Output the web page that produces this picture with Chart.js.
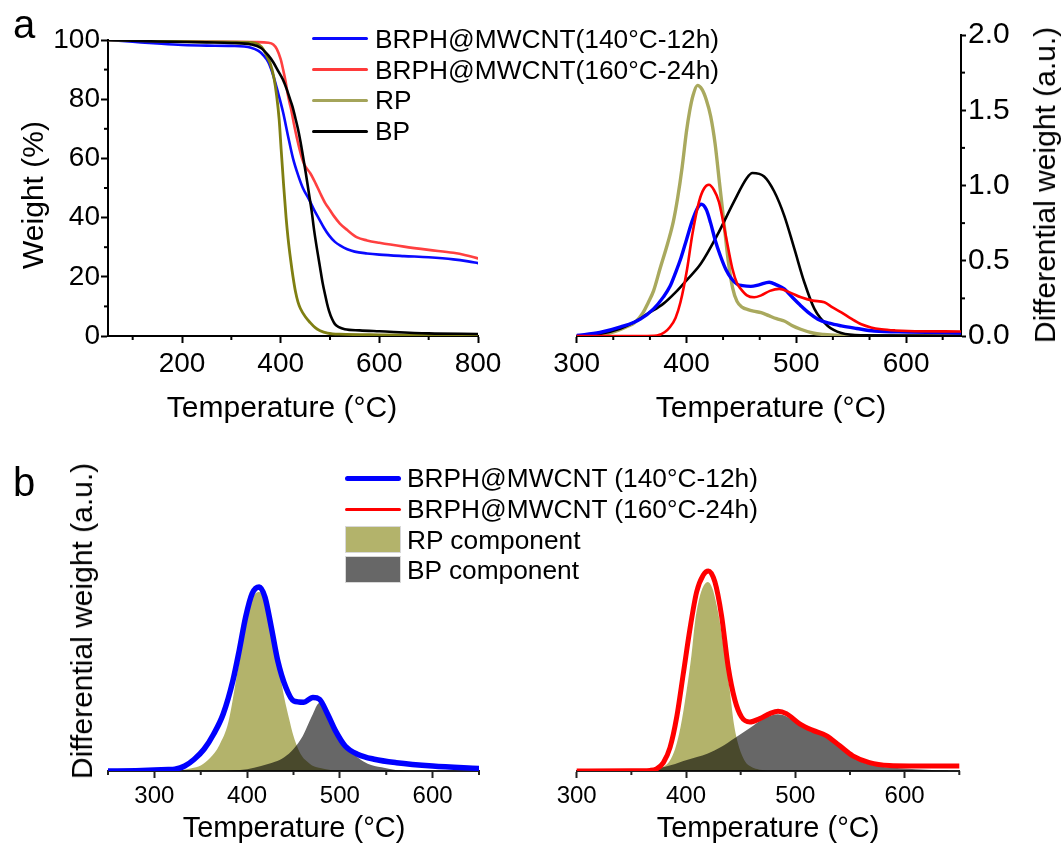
<!DOCTYPE html>
<html>
<head>
<meta charset="utf-8">
<script src="https://cdn.jsdelivr.net/npm/chart.js@4/dist/chart.umd.min.js"></script>
<style>
  html, body { margin: 0; padding: 0; background: #fff; }
  body { width: 1064px; height: 843px; position: relative; overflow: hidden;
         font-family: "Liberation Sans", Arial, sans-serif; color: #000; }
  canvas { position: absolute; }
  .t { position: absolute; white-space: nowrap; line-height: 1; }
  .c { transform: translate(-50%, -50%); }
  .r { transform: translate(-50%, -50%) rotate(-90deg); }
  .row { position: absolute; white-space: nowrap; line-height: 1; }
  .sw { position: absolute; }
</style>
</head>
<body>
<canvas id="tga" width="540" height="430" style="left:0;top:0"></canvas>
<canvas id="dtg" width="524" height="430" style="left:540px;top:0"></canvas>
<canvas id="fit1" width="540" height="403" style="left:0;top:440px"></canvas>
<canvas id="fit2" width="524" height="403" style="left:540px;top:440px"></canvas>

<div class="t" style="left:13px;top:4px;font-size:40px">a</div>
<div class="t" style="left:13px;top:462px;font-size:40px">b</div>

<div class="t c" style="left:282px;top:407px;font-size:30px">Temperature (°C)</div>
<div class="t r" style="left:33px;top:195px;font-size:30px">Weight (%)</div>
<div class="t c" style="left:771px;top:407px;font-size:30px">Temperature (°C)</div>
<div class="t r" style="left:1045px;top:185px;font-size:30px">Differential weight (a.u.)</div>
<div class="t c" style="left:294px;top:827px;font-size:29px">Temperature (°C)</div>
<div class="t r" style="left:82px;top:621px;font-size:30px">Differential weight (a.u.)</div>
<div class="t c" style="left:768px;top:827px;font-size:29px">Temperature (°C)</div>

<div id="legA"></div>
<div id="legB"></div>

<script>
// ---------- Sample names ----------
const tgaNames = ['BRPH@MWCNT(140°C-12h)', 'BRPH@MWCNT(160°C-24h)', 'RP', 'BP'];
const fitNames = ['BRPH@MWCNT (140°C-12h)', 'BRPH@MWCNT (160°C-24h)', 'RP component', 'BP component'];

// ---------- TGA: temperature (°C) / weight (%) ----------
const tgaBlueT = [50,100,150,200,250,300,340,355,365,375,385,395,405,415,425,435,445,458,468,478,488,498,510,521,535,550,575,600,650,700,750,780,800];
const tgaBlueW = [100,99.4,98.8,98.3,98.1,98.0,97.4,96.3,94.8,92.5,88,82,75.5,67.5,60,54.5,50,46,42.5,39.5,36.5,34,31.8,30.5,29.3,28.5,27.9,27.5,27,26.6,25.9,25.2,24.6];

const tgaRedT = [50,150,250,350,375,385,392,400,405,410,414,418,421.5,427,433,438,443,447,451,460,471,480,490,500,508,520,535,555,575,600,650,700,750,775,800];
const tgaRedW = [100,99.6,99.4,99.3,99.1,98.5,97,93.5,90,86,82,78.8,76.3,71.5,66.8,63.3,60.2,58.3,57,55,51.5,48.3,45,42.5,40.5,38,35.8,33.3,32.3,31.5,30.2,29.1,28.1,27.3,26.2];

const tgaRpT = [50,150,250,340,355,365,372,379,386,392,397,401,406,411,415,420,425,430,435,440,450,460,470,480,495,520,600,800];
const tgaRpW = [100,99.6,99.4,99.2,98.5,96.8,94.5,92,87.5,81,73,63,51,40,33,26,20,15,11.5,9.3,6.5,4.5,2.8,1.8,1,0.6,0.4,0.2];

const tgaBpT = [50,150,250,300,340,360,375,385,395,404,412,418,424,430,435,440,445,451,457,463,468,474,480,485,490,494,498,504,510,518,530,560,600,700,800];
const tgaBpW = [100,99.5,99.2,99,98.5,97.3,94.8,92.5,89.5,86.8,83.5,80.5,77.5,73.5,70,65.8,61,55,48.5,42,35.5,29,23,18,14,11,8.5,5.8,4,3,2.3,1.9,1.6,0.9,0.7];

// ---------- DTG: temperature (°C) / differential weight (a.u.) ----------
const dtgBlueT = [300,321,340,358,370,379,385,390,395,400,405,410,413.5,418,422,426,431,436,441,446,451,458.6,466,475.3,482,489,496,504.3,512,519.6,530,541,555,571,602,650];
const dtgBlueV = [0.003,0.023,0.06,0.112,0.18,0.26,0.33,0.42,0.52,0.64,0.76,0.85,0.875,0.84,0.75,0.64,0.53,0.44,0.38,0.345,0.335,0.33,0.34,0.357,0.34,0.313,0.26,0.2,0.15,0.112,0.085,0.067,0.05,0.033,0.027,0.02];

const dtgRedT = [300,360,373,380,385,390,394.5,400.6,405.2,411.3,416,420.4,425,429.6,435.7,441.8,446,449.4,455,461.6,468,476,484.5,494,504.3,515,525.6,533,541,550,559.2,568,577.5,590,602,650];
const dtgRedV = [0,0,0.003,0.025,0.06,0.12,0.224,0.447,0.67,0.89,0.98,1.005,0.97,0.89,0.67,0.447,0.35,0.313,0.27,0.257,0.27,0.3,0.313,0.29,0.257,0.235,0.224,0.19,0.157,0.115,0.078,0.057,0.045,0.037,0.033,0.03];

const dtgRpT = [300,320,335,345,353,360,365,370,376,383,388,392,396,400,403,406,410,414,418,422,426,430,434,438,442,446,451,456,461,468,475,482,489,496,504,515,525,540,560,650];
const dtgRpV = [0,0.005,0.03,0.06,0.09,0.15,0.22,0.3,0.45,0.62,0.76,0.92,1.12,1.36,1.5,1.6,1.665,1.64,1.57,1.46,1.28,1.02,0.76,0.5,0.32,0.23,0.19,0.175,0.165,0.155,0.135,0.115,0.1,0.07,0.045,0.02,0.01,0.003,0,0];

const dtgBpT = [300,320,340,352,365,379,390,400,413,428,443,455,460,470.7,479.9,489,498.2,507.3,516.5,528.7,541,560,650];
const dtgBpV = [0.003,0.012,0.05,0.09,0.15,0.215,0.29,0.37,0.48,0.67,0.89,1.05,1.083,1.06,0.96,0.8,0.58,0.357,0.18,0.067,0.02,0.005,0.002];

// ---------- Peak fitting, 140°C-12h (normalised to the main peak) ----------
const fit1T = [250,280,300,315,322,332.7,343,353.5,363.8,374.2,384.6,391.5,398.4,405.4,413,419.2,426.1,433,441.7,450.3,460.7,471,478,486.7,495.3,505.7,519.6,536.9,561,600,650];
const fit1V = [0,0.002,0.005,0.008,0.01,0.027,0.064,0.118,0.2,0.31,0.49,0.655,0.836,0.964,1.0,0.945,0.78,0.6,0.455,0.38,0.373,0.4,0.39,0.31,0.218,0.136,0.09,0.064,0.045,0.027,0.014];
const fit1RpT = [320,330,340,350,360,370,380,390,400,405,413,420,425,430,435,440,445,450,455,460,465,470,480,490,500];
const fit1RpV = [0,0.005,0.015,0.03,0.07,0.14,0.27,0.55,0.82,0.93,0.973,0.92,0.82,0.68,0.54,0.4,0.29,0.19,0.12,0.075,0.05,0.03,0.015,0.005,0];
const fit1BpT = [370,385,400,415,430,440,450,460,470,478,485,492,500,510,520,530,545,560,575];
const fit1BpV = [0,0.004,0.01,0.027,0.05,0.075,0.12,0.19,0.3,0.37,0.34,0.27,0.2,0.12,0.07,0.04,0.02,0.005,0];

// ---------- Peak fitting, 160°C-24h (normalised to the main peak) ----------
const fit2T = [300,350,367,373,379.3,385.4,391.5,397.6,403.6,409.7,415.8,420.4,426.4,432.5,438.6,444.7,450.8,458.4,467.5,476.6,484.2,491.8,504,516.1,528.3,540.4,552.6,567.8,586,604,650];
const fit2V = [0,0.001,0.003,0.01,0.042,0.118,0.27,0.49,0.71,0.895,0.98,1.0,0.946,0.777,0.52,0.355,0.27,0.245,0.262,0.287,0.299,0.287,0.236,0.203,0.177,0.127,0.076,0.042,0.027,0.025,0.025];
const fit2RpT = [365,372,379,385,390,395,400.6,405,408.2,412,416,420,424,428,431,435.6,440,443.8,447.7,453.8,460,465,475];
const fit2RpV = [0,0.005,0.02,0.05,0.11,0.22,0.405,0.58,0.743,0.86,0.925,0.945,0.915,0.83,0.743,0.574,0.405,0.236,0.135,0.05,0.02,0.01,0];
const fit2BpT = [340,360,370,380,390,397.6,410,420,432,444.7,458.4,470.5,478,484,491,497.9,505,513,525,531,537,543,549.5,557,564.7,575,586,600,620,640];
const fit2BpV = [0.002,0.005,0.01,0.02,0.035,0.05,0.07,0.088,0.12,0.165,0.215,0.26,0.278,0.284,0.275,0.253,0.232,0.211,0.186,0.165,0.135,0.105,0.076,0.055,0.037,0.025,0.017,0.012,0.006,0.002];

// ---------- Axis ticks ----------
const tgaTicksX = [200, 400, 600, 800];
const tgaTicksY = [0, 20, 40, 60, 80, 100];
const tgaMinorX = [100, 300, 500, 700];
const tgaMinorY = [10, 30, 50, 70, 90];
const dtgTicksX = [300, 400, 500, 600];
const dtgTicksY = [0, 0.5, 1.0, 1.5, 2.0];
const dtgMinorX = [333.3, 366.7, 433.3, 466.7, 533.3, 566.7, 633.3];
const dtgMinorY = [0.25, 0.75, 1.25, 1.75];
const fitTicksX = [300, 400, 500, 600];
const fit1MinorX = [250, 350, 450, 550, 650];
const fit2MinorX = [350, 450, 550, 650];

// ---------- Helpers ----------
const FONT = '"Liberation Sans", Arial, sans-serif';
const pts = (xs, ys) => xs.map((x, i) => ({ x, y: ys[i] }));
const fixed = vals => scale => { scale.ticks = vals.map(v => ({ value: v })); };

// short minor tick marks on the outer side of an axis
function minorTickPlugin(spec) {
  return {
    id: 'minorTicks',
    afterDraw(chart) {
      const ctx = chart.ctx;
      ctx.save();
      ctx.strokeStyle = spec.color || '#000';
      ctx.lineWidth = 2;
      spec.axes.forEach(a => {
        const s = chart.scales[a.id];
        a.values.forEach(v => {
          const p = s.getPixelForValue(v);
          ctx.beginPath();
          if (s.isHorizontal()) { ctx.moveTo(p, s.top); ctx.lineTo(p, s.top + a.len); }
          else if (s.position === 'left') { ctx.moveTo(s.right, p); ctx.lineTo(s.right - a.len, p); }
          else { ctx.moveTo(s.left, p); ctx.lineTo(s.left + a.len, p); }
          ctx.stroke();
        });
      });
      ctx.restore();
    }
  };
}

// component areas are multiplied where they overlap; curves are drawn normally
const multiplyFills = {
  id: 'multiplyFills',
  beforeDraw(chart) { chart.ctx.globalCompositeOperation = 'multiply'; },
  beforeDatasetsDraw(chart) { chart.ctx.globalCompositeOperation = 'source-over'; }
};

function axisX(min, max, ticks, height, fontSize, color) {
  return {
    type: 'linear', min, max,
    afterBuildTicks: fixed(ticks),
    afterFit: s => { s.height = height; },
    ticks: { font: { family: FONT, size: fontSize }, color: '#000', padding: 4, maxRotation: 0, autoSkip: false },
    grid: { drawOnChartArea: false, drawTicks: true, tickLength: 7, tickWidth: 2, tickColor: color },
    border: { display: true, color: color, width: 2 }
  };
}

const baseOptions = (padding) => ({
  responsive: false, animation: false, devicePixelRatio: 1,
  layout: { padding },
  elements: { point: { radius: 0, hoverRadius: 0 },
              line: { cubicInterpolationMode: 'monotone', borderJoinStyle: 'round', borderCapStyle: 'round' } },
  plugins: { legend: { display: false }, tooltip: { enabled: false } },
  events: []
});

// ---------- a (left): weight loss ----------
{
  const opt = baseOptions({ left: 0, top: 40, right: 62, bottom: 0 });
  opt.scales = {
    x: axisX(50, 800, tgaTicksX, 94, 28, '#000'),
    y: {
      type: 'linear', min: 0, max: 100, position: 'left',
      afterBuildTicks: fixed(tgaTicksY),
      afterFit: s => { s.width = 108; },
      ticks: { font: { family: FONT, size: 28 }, color: '#000', padding: 1 },
      grid: { drawOnChartArea: false, drawTicks: true, tickLength: 7, tickWidth: 2, tickColor: '#000' },
      border: { display: true, color: '#000', width: 2 }
    }
  };
  new Chart(document.getElementById('tga'), {
    type: 'line',
    data: { datasets: [
      { label: tgaNames[3], data: pts(tgaBpT, tgaBpW), borderColor: '#000000', borderWidth: 2.6 },
      { label: tgaNames[2], data: pts(tgaRpT, tgaRpW), borderColor: '#7f7f12', borderWidth: 2.8 },
      { label: tgaNames[0], data: pts(tgaBlueT, tgaBlueW), borderColor: '#0a0aff', borderWidth: 2.6 },
      { label: tgaNames[1], data: pts(tgaRedT, tgaRedW), borderColor: '#ff4040', borderWidth: 2.6 }
    ] },
    options: opt,
    plugins: [minorTickPlugin({ axes: [{ id: 'x', values: tgaMinorX, len: 4 }, { id: 'y', values: tgaMinorY, len: 4 }] })]
  });
}

// ---------- a (right): differential weight ----------
{
  const opt = baseOptions({ left: 36.7, top: 35, right: 0, bottom: 0 });
  opt.scales = {
    x: axisX(300, 650, dtgTicksX, 94, 28, '#000'),
    y: {
      type: 'linear', min: 0, max: 2, position: 'right',
      afterBuildTicks: fixed(dtgTicksY),
      afterFit: s => { s.width = 103; },
      ticks: { font: { family: FONT, size: 30 }, color: '#000', padding: 2, callback: v => v.toFixed(1) },
      grid: { drawOnChartArea: false, drawTicks: true, tickLength: 5, tickWidth: 2, tickColor: '#000' },
      border: { display: true, color: '#000', width: 2 }
    }
  };
  new Chart(document.getElementById('dtg'), {
    type: 'line',
    data: { datasets: [
      { label: tgaNames[1], data: pts(dtgRedT, dtgRedV), borderColor: '#ff0000', borderWidth: 2.6 },
      { label: tgaNames[0], data: pts(dtgBlueT, dtgBlueV), borderColor: '#0000ff', borderWidth: 3.4 },
      { label: tgaNames[3], data: pts(dtgBpT, dtgBpV), borderColor: '#000000', borderWidth: 2.6 },
      { label: tgaNames[2], data: pts(dtgRpT, dtgRpV), borderColor: '#a9a95e', borderWidth: 3.4 }
    ] },
    options: opt,
    plugins: [minorTickPlugin({ axes: [{ id: 'x', values: dtgMinorX, len: 4 }, { id: 'y', values: dtgMinorY, len: 4 }] })]
  });
}

// ---------- b: peak fitting ----------
function fitChart(id, padding, xMin, yMax, minor, line, lineColor, lineWidth, rp, bp, name, yWidth) {
  const opt = baseOptions(padding);
  // all areas are filled together, before the curve is stroked
  opt.plugins.filler = { drawTime: 'beforeDatasetsDraw' };
  opt.scales = {
    x: axisX(xMin, 650, fitTicksX, 72, 24, '#222'),
    y: { type: 'linear', min: 0, max: yMax, display: yWidth > 0,
         afterFit: s => { s.width = yWidth; },
         ticks: { display: false }, grid: { display: false }, border: { display: false } }
  };
  new Chart(document.getElementById(id), {
    type: 'line',
    data: { datasets: [
      { label: name, data: line, borderColor: lineColor, borderWidth: lineWidth, fill: false },
      { label: fitNames[3], data: bp, borderColor: 'rgba(0,0,0,0)', borderWidth: 1,
        backgroundColor: '#676767', fill: 'origin' },
      { label: fitNames[2], data: rp, borderColor: 'rgba(0,0,0,0)', borderWidth: 1,
        backgroundColor: '#b3b36b', fill: 'origin' }
    ] },
    options: opt,
    plugins: [multiplyFills, minorTickPlugin({ color: '#222', axes: [{ id: 'x', values: minor, len: 4 }] })]
  });
}

fitChart('fit1', { left: 0, top: 20, right: 61, bottom: 0 }, 250, 1.69, fit1MinorX,
         pts(fit1T, fit1V), '#0000ff', 5.5, pts(fit1RpT, fit1RpV), pts(fit1BpT, fit1BpV), fitNames[0], 108);
fitChart('fit2', { left: 36.7, top: 20, right: 104.7, bottom: 0 }, 300, 1.555, fit2MinorX,
         pts(fit2T, fit2V), '#ff0000', 5, pts(fit2RpT, fit2RpV), pts(fit2BpT, fit2BpV), fitNames[1], 0);

// ---------- legends ----------
function legend(el, x0, x1, tx, fontSize, rows) {
  const host = document.getElementById(el);
  rows.forEach(r => {
    const sw = document.createElement('div');
    sw.className = 'sw';
    if (r.box) {
      Object.assign(sw.style, { left: x0 + 'px', top: (r.y - 13.5) + 'px', width: (x1 - x0) + 'px', height: '27px',
        background: r.color, boxSizing: 'border-box', border: '1px solid #d8d8d8' });
    } else {
      Object.assign(sw.style, { left: x0 + 'px', top: (r.y - r.w / 2) + 'px', width: (x1 - x0) + 'px', height: r.w + 'px',
        background: r.color, borderRadius: (r.w / 2) + 'px' });
    }
    host.appendChild(sw);
    const label = document.createElement('div');
    label.className = 'row';
    label.textContent = r.label;
    Object.assign(label.style, { left: tx + 'px', top: (r.y - fontSize * 0.49) + 'px', fontSize: fontSize + 'px' });
    host.appendChild(label);
  });
}

legend('legA', 312, 368, 375, 26.3, [
  { label: tgaNames[0], color: '#0a0aff', w: 3, y: 38.5 },
  { label: tgaNames[1], color: '#ff3a3a', w: 3, y: 69.5 },
  { label: tgaNames[2], color: '#a4a45a', w: 3, y: 100 },
  { label: tgaNames[3], color: '#000000', w: 3, y: 131 }
]);
legend('legB', 345, 401, 407, 26.3, [
  { label: fitNames[0], color: '#0000ff', w: 5, y: 478 },
  { label: fitNames[1], color: '#ff0000', w: 3, y: 509 },
  { label: fitNames[2], color: '#b3b36b', box: true, y: 539.5 },
  { label: fitNames[3], color: '#676767', box: true, y: 569.5 }
]);
</script>
</body>
</html>
